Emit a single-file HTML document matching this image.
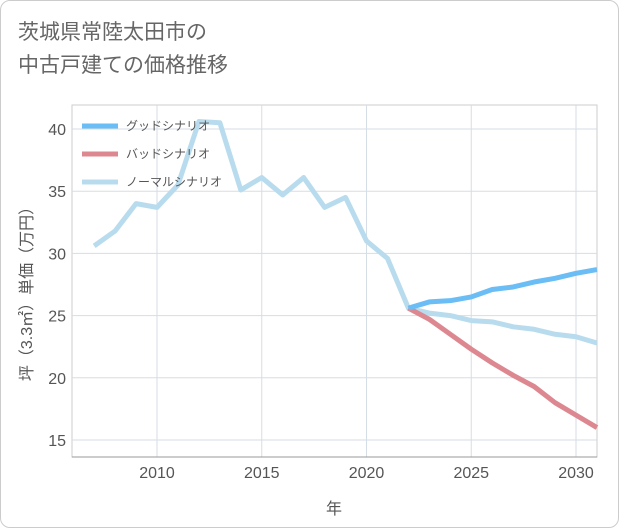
<!DOCTYPE html>
<html><head><meta charset="utf-8"><style>
body{margin:0;background:#fff;}
#wrap{position:relative;width:621px;height:530px;font-family:"Liberation Sans","Noto Sans CJK JP",sans-serif;}
.card{position:absolute;left:0;top:0;width:619px;height:528px;border:1px solid #ccc;border-radius:10px;box-sizing:border-box;}
.title{position:absolute;left:18px;top:16px;font-size:21px;line-height:33px;color:#666;}
</style></head><body>
<div id="wrap">
<div class="card"></div>
<div class="title">茨城県常陸太田市の<br>中古戸建ての価格推移</div>
<svg id="svg" width="621" height="530" style="position:absolute;left:0;top:0"></svg>
</div>
<script>
const years=[2007,2008,2009,2010,2011,2012,2013,2014,2015,2016,2017,2018,2019,2020,2021,2022,2023,2024,2025,2026,2027,2028,2029,2030,2031];
const normalVals=[30.6,31.8,34.0,33.7,35.5,40.6,40.5,35.1,36.1,34.7,36.1,33.7,34.5,31.0,29.6,25.6,25.2,25.0,24.6,24.5,24.1,23.9,23.5,23.3,22.8];
const futureYears=[2022,2023,2024,2025,2026,2027,2028,2029,2030,2031];
const goodVals=[25.6,26.1,26.2,26.5,27.1,27.3,27.7,28.0,28.4,28.7];
const badVals=[25.6,24.7,23.5,22.3,21.2,20.2,19.3,18.0,17.0,16.0];
const xTicks=[2010,2015,2020,2025,2030];
const yTicks=[15,20,25,30,35,40];
const ns="http://www.w3.org/2000/svg",svg=document.getElementById('svg');
const L=72,R=597,T=105,B=457;
const x=v=>157+(v-2010)*(576-157)/20;
const y=v=>440-(v-15)*(440-129)/25;
function mk(t,a,p){const e=document.createElementNS(ns,t);for(const k in a)e.setAttribute(k,a[k]);(p||svg).appendChild(e);return e;}
const bg=mk('rect',{x:L,y:T,width:R-L,height:B-T,fill:'#fff',stroke:'#ccc'});


xTicks.forEach(t=>{const g=mk('line',{x1:x(t),x2:x(t),y1:T,y2:B,stroke:'#d5dde6'});


const l=mk('text',{x:x(t),y:478,'text-anchor':'middle','font-size':16,fill:'#555'});l.textContent=t;

});
yTicks.forEach(t=>{const g=mk('line',{x1:L,x2:R,y1:y(t),y2:y(t),stroke:'#d5dde6'});


const l=mk('text',{x:66,y:y(t)+6,'text-anchor':'end','font-size':16,fill:'#555'});l.textContent=t;

});
const ax=mk('line',{x1:L,x2:R,y1:B,y2:B,stroke:'#999'});


const xt=mk('text',{x:334,y:514,'text-anchor':'middle','font-size':16,fill:'#555'});xt.textContent='年';


const yt=mk('text',{x:0,y:0,'text-anchor':'middle','font-size':16,fill:'#555',transform:'translate(32,290) rotate(-90)'});yt.textContent='坪（3.3㎡）単価（万円）';


function line(xs,vs,c,n){const p=mk('polyline',{points:xs.map((v,i)=>x(v)+','+y(vs[i])).join(' '),fill:'none',stroke:c,'stroke-width':5,'stroke-linejoin':'round'});

}
line(years,normalVals,'#b8dcee','normal-series-line');
line(futureYears,badVals,'#dd8890','bad-series-line');
line(futureYears,goodVals,'#6bbdf5','good-series-line');
const leg=[['グッドシナリオ','#6bbdf5'],['バッドシナリオ','#dd8890'],['ノーマルシナリオ','#b8dcee']];
leg.forEach((d,i)=>{const yy=126+i*28;const l=mk('line',{x1:82,x2:118,y1:yy,y2:yy,stroke:d[1],'stroke-width':5});


const t=mk('text',{x:126,y:yy+4,'font-size':12,fill:'#555'});t.textContent=d[0];

});
</script>
</body></html>
